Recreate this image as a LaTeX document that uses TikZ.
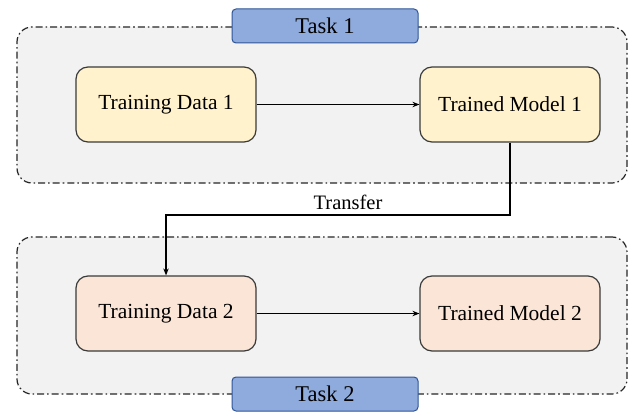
\documentclass[tikz,border=0pt]{standalone}
\usepackage{fontspec}
\setmainfont{Liberation Serif}
\usetikzlibrary{arrows.meta}
\definecolor{outerfill}{HTML}{F2F2F2}
\definecolor{yfill}{HTML}{FFF2CC}
\definecolor{pfill}{HTML}{FBE5D6}
\definecolor{tfill}{HTML}{8FAADC}
\definecolor{tdraw}{HTML}{2F5597}
\definecolor{bdraw}{HTML}{3A3A3A}
\tikzset{
  taskgroup/.style={draw=black!85, fill=outerfill, line width=1.2pt, rounded corners=15pt,
    dash pattern=on 7pt off 3pt on 1.6pt off 3pt},
  procbox/.style={draw=bdraw, line width=1.2pt, rounded corners=12pt, minimum width=180pt,
    minimum height=75pt, inner sep=0pt, font=\fontsize{21.5}{24}\selectfont},
  taskbox/.style={draw=tdraw, fill=tfill, line width=1pt, rounded corners=4pt,
    minimum width=186pt, minimum height=34pt, inner sep=0pt, font=\fontsize{22.5}{25}\selectfont},
  arr/.style={-{Stealth[length=7pt,width=5.5pt]}, line width=1.4pt},
}
\begin{document}
\begin{tikzpicture}[x=1pt,y=1pt]
\useasboundingbox (0,0) rectangle (637,-412);
\fill[white] (0,0) rectangle (637,-412);
% groups
\node[taskgroup, minimum width=610pt, minimum height=156pt, inner sep=0pt] (g1) at (322,-105) {};
\node[taskgroup, minimum width=610pt, minimum height=157pt, inner sep=0pt] (g2) at (322,-315.5) {};
% task labels
\node[taskbox] (task1) at (325,-26) {Task 1};
\node[taskbox] (task2) at (325,-394) {Task 2};
% boxes
\node[procbox, fill=yfill] (td1) at (166,-104.5) {Training Data 1};
\node[procbox, fill=yfill] (tm1) at (510,-104.5) {Trained Model 1};
\node[procbox, fill=pfill] (td2) at (166,-313.5) {Training Data 2};
\node[procbox, fill=pfill] (tm2) at (510,-313.5) {Trained Model 2};
% arrows
\draw[arr] (td1) -- (tm1);
\draw[arr] (td2) -- (tm2);
\coordinate (bend) at (166,-215);
\draw[arr] (tm1.south) |- (bend) -- (td2.north);
\node[font=\fontsize{20.5}{23}\selectfont, anchor=base, inner sep=0pt] (tr) at (348,-209) {Transfer};
\end{tikzpicture}
\end{document}
